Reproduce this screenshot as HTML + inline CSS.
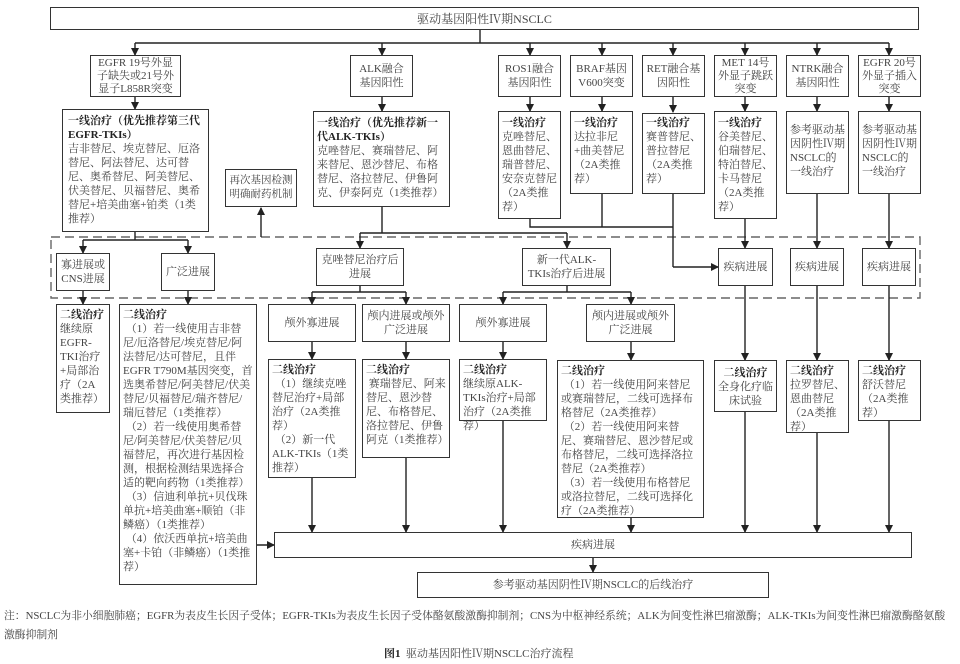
<!DOCTYPE html>
<html><head><meta charset="utf-8"><style>
body{margin:0;width:960px;height:664px;background:#fff;position:relative;overflow:hidden;font-family:"Liberation Serif","Noto Serif CJK SC",serif;color:#333}
.b{position:absolute;border:1.4px solid #333;box-sizing:border-box;font-size:11px;line-height:14px;padding:1px 3px;background:#fff;color:#444}
.c{display:flex;align-items:center;justify-content:center;text-align:center}
b{color:#222}
svg{position:absolute;left:0;top:0}
.cap{position:absolute;font-size:10.8px;color:#444;white-space:nowrap}
</style></head><body>
<svg width="960" height="664">
<defs><marker id="a" markerWidth="8" markerHeight="8" refX="7" refY="4" orient="auto" markerUnits="userSpaceOnUse"><path d="M0,0 L8,4 L0,8 z" fill="#222"/></marker></defs>
<rect x="51" y="237" width="869" height="61" fill="none" stroke="#666" stroke-width="1.4" stroke-dasharray="9,5"/>
<g stroke="#222" stroke-width="1.4" fill="none">
<line x1="480" y1="29" x2="480" y2="43"/>
<line x1="135" y1="43" x2="889" y2="43"/>
<g marker-end="url(#a)">
<line x1="135" y1="43" x2="135" y2="55"/><line x1="382" y1="43" x2="382" y2="55"/>
<line x1="530" y1="43" x2="530" y2="55"/><line x1="602" y1="43" x2="602" y2="55"/>
<line x1="673" y1="43" x2="673" y2="55"/><line x1="745" y1="43" x2="745" y2="55"/>
<line x1="817" y1="43" x2="817" y2="55"/><line x1="889" y1="43" x2="889" y2="55"/>
<line x1="135" y1="97" x2="135" y2="109"/><line x1="382" y1="97" x2="382" y2="111"/>
<line x1="530" y1="97" x2="530" y2="111"/><line x1="602" y1="97" x2="602" y2="111"/>
<line x1="673" y1="97" x2="673" y2="112"/><line x1="745" y1="97" x2="745" y2="111"/>
<line x1="817" y1="97" x2="817" y2="111"/><line x1="889" y1="97" x2="889" y2="111"/>
<line x1="83" y1="240" x2="83" y2="253"/><line x1="188" y1="240" x2="188" y2="253"/>
<line x1="261" y1="237" x2="261" y2="208"/>
<line x1="360" y1="233" x2="360" y2="248"/><line x1="567" y1="233" x2="567" y2="248"/>
<line x1="673" y1="267" x2="718" y2="267"/>
<line x1="745" y1="219" x2="745" y2="248"/><line x1="817" y1="194" x2="817" y2="248"/><line x1="889" y1="194" x2="889" y2="248"/>
<line x1="83" y1="291" x2="83" y2="304"/><line x1="188" y1="291" x2="188" y2="304"/>
<line x1="312" y1="292" x2="312" y2="304"/><line x1="406" y1="292" x2="406" y2="304"/>
<line x1="503" y1="292" x2="503" y2="304"/><line x1="631" y1="292" x2="631" y2="304"/>
<line x1="312" y1="342" x2="312" y2="359"/><line x1="406" y1="342" x2="406" y2="359"/>
<line x1="503" y1="342" x2="503" y2="359"/><line x1="631" y1="342" x2="631" y2="360"/>
<line x1="745" y1="286" x2="745" y2="360"/><line x1="817" y1="286" x2="817" y2="360"/><line x1="889" y1="286" x2="889" y2="360"/>
<line x1="312" y1="478" x2="312" y2="532"/><line x1="406" y1="458" x2="406" y2="532"/>
<line x1="503" y1="421" x2="503" y2="532"/><line x1="631" y1="518" x2="631" y2="532"/>
<line x1="745" y1="412" x2="745" y2="532"/><line x1="817" y1="433" x2="817" y2="532"/><line x1="889" y1="421" x2="889" y2="532"/>
<line x1="257" y1="545" x2="274" y2="545"/>
<line x1="593" y1="558" x2="593" y2="572"/>
</g>
<polyline points="135,232 135,240"/><line x1="83" y1="240" x2="188" y2="240"/>
<polyline points="382,207 382,233"/><line x1="360" y1="233" x2="567" y2="233"/>
<polyline points="530,219 530,227 673,227"/><line x1="602" y1="194" x2="602" y2="227"/>
<polyline points="673,194 673,267"/>
<polyline points="360,286 360,292"/><line x1="312" y1="292" x2="406" y2="292"/>
<polyline points="567,286 567,292"/><line x1="503" y1="292" x2="631" y2="292"/>
</g>
</svg>

<div class="b c" style="left:50px;top:7px;width:869px;height:23px;font-size:12px">驱动基因阳性Ⅳ期NSCLC</div>

<div class="b c" style="left:90px;top:55px;width:91px;height:42px;line-height:13px">EGFR 19号外显子缺失或21号外显子L858R突变</div>
<div class="b c" style="left:350px;top:55px;width:63px;height:42px">ALK融合基因阳性</div>
<div class="b c" style="left:498px;top:55px;width:63px;height:42px">ROS1融合基因阳性</div>
<div class="b c" style="left:570px;top:55px;width:63px;height:42px">BRAF基因V600突变</div>
<div class="b c" style="left:642px;top:55px;width:63px;height:42px">RET融合基因阳性</div>
<div class="b c" style="left:714px;top:55px;width:63px;height:42px;line-height:13px">MET 14号外显子跳跃突变</div>
<div class="b c" style="left:786px;top:55px;width:63px;height:42px">NTRK融合基因阳性</div>
<div class="b c" style="left:858px;top:55px;width:63px;height:42px;line-height:13px">EGFR 20号外显子插入突变</div>

<div class="b" style="left:62px;top:109px;width:147px;height:123px;padding:4px 5px 1px"><b>一线治疗（优先推荐第三代EGFR-TKIs）</b><br>吉非替尼、埃克替尼、厄洛替尼、阿法替尼、达可替尼、奥希替尼、阿美替尼、伏美替尼、贝福替尼、奥希替尼+培美曲塞+铂类（1类推荐）</div>
<div class="b" style="left:313px;top:111px;width:137px;height:96px;padding-top:4px"><b>一线治疗（优先推荐新一代ALK-TKIs）</b><br>克唑替尼、赛瑞替尼、阿来替尼、恩沙替尼、布格替尼、洛拉替尼、伊鲁阿克、伊泰阿克（1类推荐）</div>
<div class="b" style="left:498px;top:111px;width:63px;height:108px;padding-top:4px"><b>一线治疗</b><br>克唑替尼、恩曲替尼、瑞普替尼、安奈克替尼（2A类推荐）</div>
<div class="b" style="left:570px;top:111px;width:63px;height:83px;padding-top:4px"><b>一线治疗</b><br>达拉非尼+曲美替尼（2A类推荐）</div>
<div class="b" style="left:642px;top:113px;width:63px;height:81px;padding-top:2px"><b>一线治疗</b><br>赛普替尼、普拉替尼（2A类推荐）</div>
<div class="b" style="left:714px;top:111px;width:63px;height:108px;padding-top:4px"><b>一线治疗</b><br>谷美替尼、伯瑞替尼、特泊替尼、卡马替尼（2A类推荐）</div>
<div class="b" style="left:786px;top:111px;width:63px;height:83px;padding-top:11px">参考驱动基因阴性Ⅳ期NSCLC的一线治疗</div>
<div class="b" style="left:858px;top:111px;width:63px;height:83px;padding-top:11px">参考驱动基因阴性Ⅳ期NSCLC的一线治疗</div>

<div class="b c" style="left:225px;top:169px;width:72px;height:38px;padding:1px;font-size:10.5px">再次基因检测明确耐药机制</div>

<div class="b c" style="left:56px;top:253px;width:54px;height:38px">寡进展或CNS进展</div>
<div class="b c" style="left:161px;top:253px;width:54px;height:38px">广泛进展</div>
<div class="b c" style="left:316px;top:248px;width:88px;height:38px">克唑替尼治疗后进展</div>
<div class="b c" style="left:522px;top:248px;width:89px;height:38px">新一代ALK-TKIs治疗后进展</div>
<div class="b c" style="left:718px;top:248px;width:55px;height:38px">疾病进展</div>
<div class="b c" style="left:790px;top:248px;width:54px;height:38px">疾病进展</div>
<div class="b c" style="left:862px;top:248px;width:54px;height:38px">疾病进展</div>

<div class="b c" style="left:268px;top:304px;width:88px;height:38px">颅外寡进展</div>
<div class="b c" style="left:362px;top:304px;width:88px;height:38px">颅内进展或颅外广泛进展</div>
<div class="b c" style="left:459px;top:304px;width:88px;height:38px">颅外寡进展</div>
<div class="b c" style="left:586px;top:304px;width:89px;height:38px">颅内进展或颅外广泛进展</div>

<div class="b" style="left:56px;top:304px;width:54px;height:109px;padding-top:3px"><b>二线治疗</b><br>继续原EGFR-TKI治疗+局部治疗（2A类推荐）</div>
<div class="b" style="left:119px;top:304px;width:138px;height:281px;padding-top:3px"><b>二线治疗</b><br>&nbsp;（1）若一线使用吉非替尼/厄洛替尼/埃克替尼/阿法替尼/达可替尼，且伴EGFR T790M基因突变，首选奥希替尼/阿美替尼/伏美替尼/贝福替尼/瑞齐替尼/瑞厄替尼（1类推荐）<br>&nbsp;（2）若一线使用奥希替尼/阿美替尼/伏美替尼/贝福替尼，再次进行基因检测，根据检测结果选择合适的靶向药物（1类推荐）<br>&nbsp;（3）信迪利单抗+贝伐珠单抗+培美曲塞+顺铂（非鳞癌）（1类推荐）<br>&nbsp;（4）依沃西单抗+培美曲塞+卡铂（非鳞癌）（1类推荐）</div>
<div class="b" style="left:268px;top:359px;width:88px;height:119px;padding-top:3px"><b>二线治疗</b><br>&nbsp;（1）继续克唑替尼治疗+局部治疗（2A类推荐）<br>&nbsp;（2）新一代ALK-TKIs（1类推荐）</div>
<div class="b" style="left:362px;top:359px;width:88px;height:99px;padding-top:3px"><b>二线治疗</b><br>&nbsp;赛瑞替尼、阿来替尼、恩沙替尼、布格替尼、洛拉替尼、伊鲁阿克（1类推荐）</div>
<div class="b" style="left:459px;top:359px;width:88px;height:62px;padding-top:3px"><b>二线治疗</b><br>继续原ALK-TKIs治疗+局部治疗（2A类推荐）</div>
<div class="b" style="left:557px;top:360px;width:147px;height:158px;padding-top:3px"><b>二线治疗</b><br>&nbsp;（1）若一线使用阿来替尼或赛瑞替尼，二线可选择布格替尼（2A类推荐）<br>&nbsp;（2）若一线使用阿来替尼、赛瑞替尼、恩沙替尼或布格替尼，二线可选择洛拉替尼（2A类推荐）<br>&nbsp;（3）若一线使用布格替尼或洛拉替尼，二线可选择化疗（2A类推荐）</div>
<div class="b" style="left:714px;top:360px;width:63px;height:52px;padding-top:5px;text-align:center"><b>二线治疗</b><br>全身化疗临床试验</div>
<div class="b" style="left:786px;top:360px;width:63px;height:73px;padding-top:3px"><b>二线治疗</b><br>拉罗替尼、恩曲替尼（2A类推荐）</div>
<div class="b" style="left:858px;top:360px;width:63px;height:61px;padding-top:3px"><b>二线治疗</b><br>舒沃替尼（2A类推荐）</div>

<div class="b c" style="left:274px;top:532px;width:638px;height:26px">疾病进展</div>
<div class="b c" style="left:417px;top:572px;width:352px;height:26px">参考驱动基因阴性Ⅳ期NSCLC的后线治疗</div>

<div class="cap" style="left:4px;top:608px">注：NSCLC为非小细胞肺癌；EGFR为表皮生长因子受体；EGFR-TKIs为表皮生长因子受体酪氨酸激酶抑制剂；CNS为中枢神经系统；ALK为间变性淋巴瘤激酶；ALK-TKIs为间变性淋巴瘤激酶酪氨酸</div>
<div class="cap" style="left:4px;top:627px">激酶抑制剂</div>
<div class="cap" style="left:384px;top:645px;font-size:11px"><b>图1</b>&nbsp;&nbsp;驱动基因阳性Ⅳ期NSCLC治疗流程</div>
</body></html>
